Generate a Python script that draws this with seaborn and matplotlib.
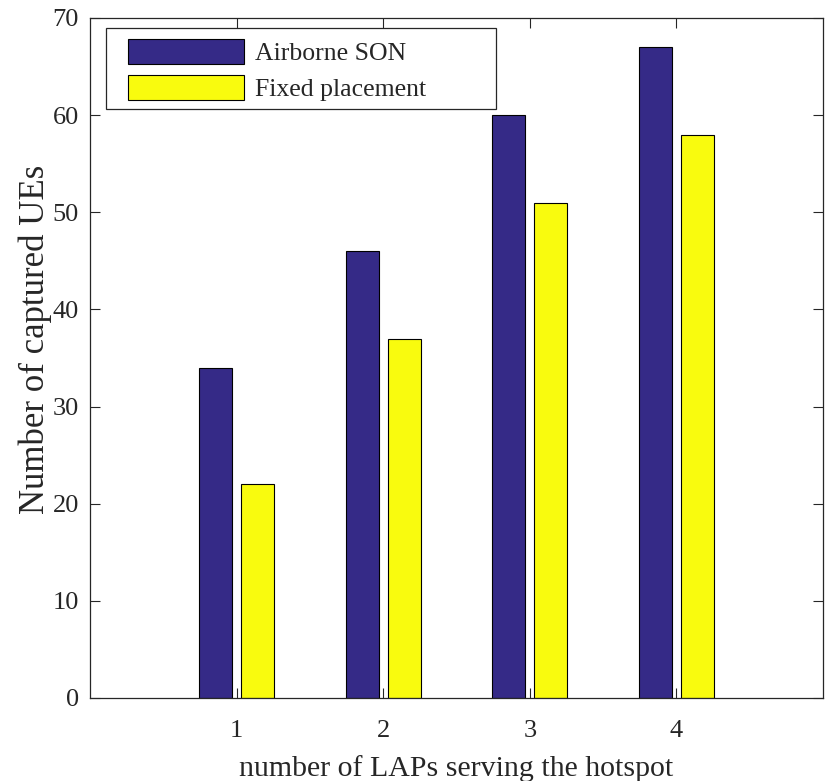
import matplotlib
matplotlib.use("Agg")
import matplotlib.pyplot as plt
import seaborn as sns
import pandas as pd
from matplotlib.patches import Patch, Rectangle

laps = [1, 2, 3, 4]
airborne_son = [34, 46, 60, 67]
fixed_placement = [22, 37, 51, 58]
series_names = ["Airborne SON", "Fixed placement"]
colors = ["#352a87", "#f9fb0e"]
y_ticks = [0, 10, 20, 30, 40, 50, 60, 70]

df = pd.DataFrame({
    "laps": laps * 2,
    "value": airborne_son + fixed_placement,
    "series": [series_names[0]] * len(laps) + [series_names[1]] * len(laps),
})

sns.set_theme(style="white")
plt.rcParams["font.family"] = ["Liberation Serif", "DejaVu Serif"]
axc = "#262626"

fig = plt.figure(figsize=(8.27, 7.81), dpi=100)
ax = fig.add_axes([0.1088, 0.1063, 0.8864, 0.8707])

sns.barplot(data=df, x="laps", y="value", hue="series", native_scale=True,
            palette=colors, width=0.572, gap=0.206, edgecolor="black",
            linewidth=0.8, ax=ax, legend=False, saturation=1)

ax.set_xlim(0, 5)
ax.set_ylim(0, 70)
ax.set_xticks(laps)
ax.set_xticklabels([str(v) for v in laps])
ax.set_yticks(y_ticks)
ax.set_xlabel("number of LAPs serving the hotspot", fontsize=21.5, color=axc, labelpad=9)
ax.set_ylabel("Number of captured UEs", fontsize=25, color=axc)
ax.yaxis.set_label_coords(-0.052, 0.528)
ax.tick_params(axis="both", direction="in", length=7, width=0.8, colors=axc,
               labelsize=19, top=True, right=True, bottom=True, left=True)
ax.tick_params(axis="x", pad=16)
ax.tick_params(axis="y", pad=8)
for s in ax.spines.values():
    s.set_color(axc)
    s.set_linewidth(0.9)
    s.set_visible(True)

handles = [Patch(facecolor=c, edgecolor="black", linewidth=0.8) for c in colors]
leg = ax.legend(handles, series_names, loc="upper left",
                bbox_to_anchor=(0.052, 0.969), borderaxespad=0, frameon=False,
                fontsize=18.5, handlelength=4.5, handleheight=1.1,
                handletextpad=0.42, labelspacing=0.38, borderpad=0)
for t in leg.get_texts():
    t.set_color(axc)
ax.add_patch(Rectangle((0.0218, 0.866), 0.5322, 0.119, transform=ax.transAxes,
                       facecolor="none", edgecolor=axc, linewidth=0.9, zorder=5))

fig.savefig("out.png", dpi=100)
